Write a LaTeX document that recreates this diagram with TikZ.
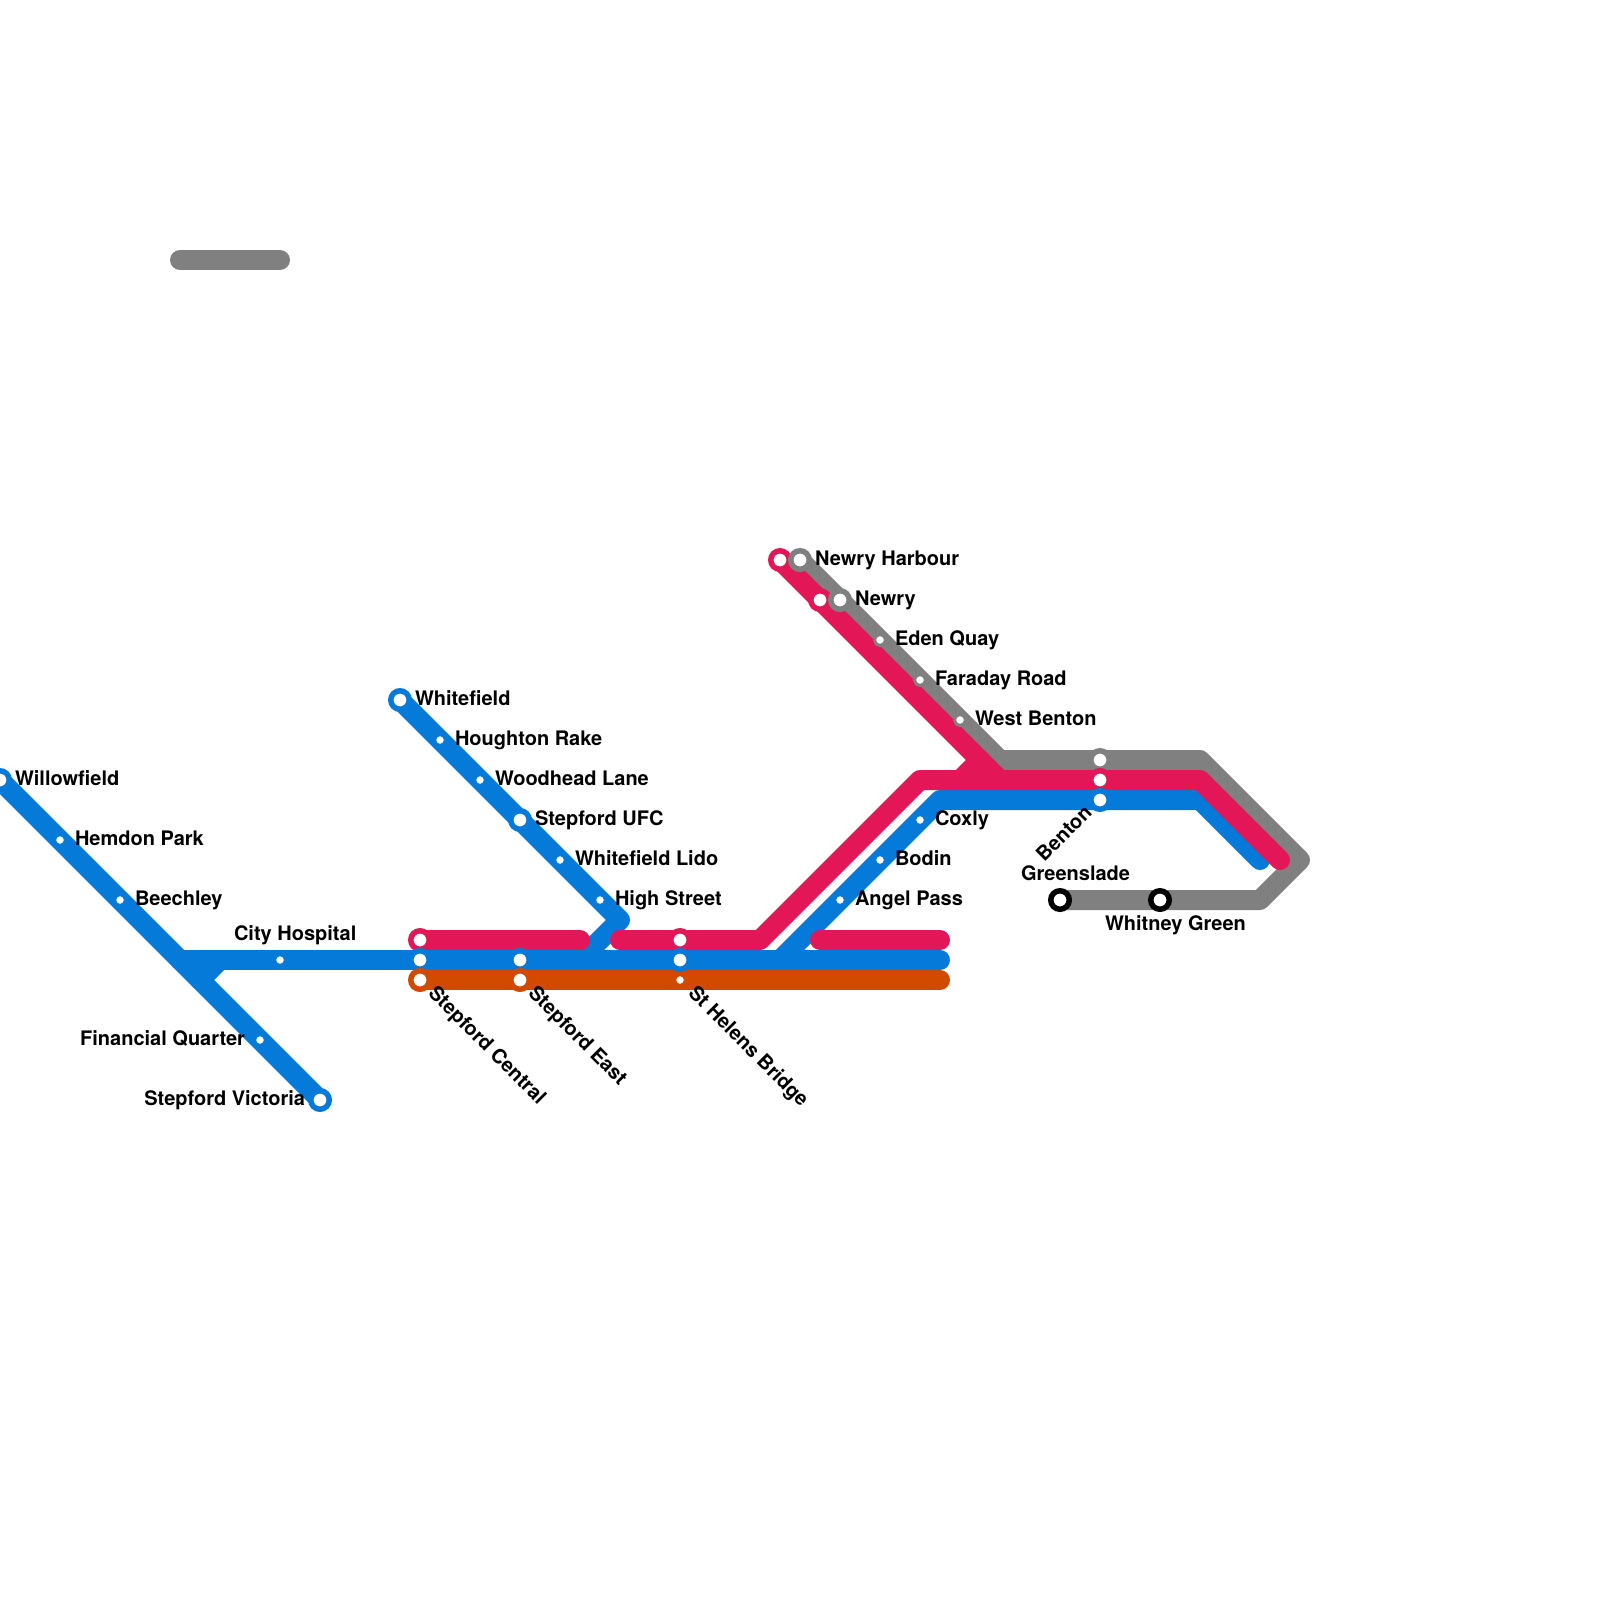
\documentclass[tikz,border=0pt]{standalone}
\usepackage{fontspec}
\setmainfont{TeX Gyre Heros}
\definecolor{lblue}{HTML}{057AD9}
\definecolor{lpink}{HTML}{E31758}
\definecolor{lorange}{HTML}{D14A00}
\definecolor{lgray}{HTML}{808080}
\tikzset{
  metroline/.style={line width=20pt,line cap=round,line join=round},
  bigstn/.style={circle,fill=white,draw=#1,line width=5.5pt,minimum size=18.5pt,inner sep=0pt,outer sep=0pt},
  smallstn/.style={circle,fill=white,draw=#1,line width=3pt,minimum size=11pt,inner sep=0pt,outer sep=0pt},
  stnlabel/.style={inner sep=0pt,outer sep=0pt,font=\fontsize{20}{24}\selectfont\bfseries},
  west/.style={stnlabel,anchor=base west},
  east/.style={stnlabel,anchor=base east},
  diagdown/.style={stnlabel,anchor=base west,rotate=-45},
  diagup/.style={stnlabel,anchor=base east,rotate=45}
}
\begin{document}
\begin{tikzpicture}[x=1pt,y=-1pt]
\useasboundingbox (0,0) rectangle (1600,1600);
% way points
\coordinate (willow) at (0,780);
\coordinate (vic) at (320,1100);
\coordinate (bj) at (200,980);
\coordinate (bk) at (220,960);
\coordinate (bl) at (180,960);
\coordinate (bend) at (940,960);
\coordinate (wf) at (400,700);
\coordinate (hs) at (620,920);
\coordinate (hj) at (580,960);
\coordinate (cj) at (780,960);
\coordinate (ct) at (940,800);
\coordinate (cr) at (1200,800);
\coordinate (ce) at (1260,860);
\coordinate (oa) at (420,980);
\coordinate (ob) at (940,980);
\coordinate (pa) at (420,940);
\coordinate (pb) at (580,940);
\coordinate (pc) at (620,940);
\coordinate (pd) at (760,940);
\coordinate (pe) at (920,780);
\coordinate (pf) at (960,780);
\coordinate (pg) at (980,760);
\coordinate (ph) at (780,560);
\coordinate (pi) at (1000,780);
\coordinate (pj) at (1200,780);
\coordinate (pk) at (1280,860);
\coordinate (pl) at (820,940);
\coordinate (pm) at (940,940);
\coordinate (ga) at (800,560);
\coordinate (gb) at (1000,760);
\coordinate (gc) at (1200,760);
\coordinate (gd) at (1300,860);
\coordinate (ge) at (1260,900);
\coordinate (gf) at (1060,900);
\coordinate (sa) at (180,260);
\coordinate (sb) at (280,260);
% lines
\draw[metroline,lgray] (sa) -- (sb);
\draw[metroline,lgray] (ga) -- (gb) -- (gc) -- (gd) -- (ge) -- (gf);
\draw[metroline,lorange] (oa) -- (ob);
\draw[metroline,lblue] (willow) -- (vic);
\draw[metroline,lblue] (bl) -- (bend);
\draw[metroline,lblue] (bj) -- (bk);
\draw[metroline,lblue] (wf) -- (hs) -- (hj);
\draw[metroline,lblue] (cj) -- (ct) -- (cr) -- (ce);
\draw[metroline,lpink] (pa) -- (pb);
\draw[metroline,lpink] (pc) -- (pd) -- (pe) -- (pi);
\draw[metroline,lpink] (pf) -- (pg);
\draw[metroline,lpink] (ph) -- (pi) -- (pj) -- (pk);
\draw[metroline,lpink] (pl) -- (pm);
% stations
\node[bigstn=lblue] (s1) at (0,780) {};
\node[smallstn=lblue] (s2) at (60,840) {};
\node[smallstn=lblue] (s3) at (120,900) {};
\node[smallstn=lblue] (s4) at (280,960) {};
\node[smallstn=lblue] (s5) at (260,1040) {};
\node[bigstn=lblue] (s6) at (320,1100) {};
\node[bigstn=lblue] (s7) at (400,700) {};
\node[smallstn=lblue] (s8) at (440,740) {};
\node[smallstn=lblue] (s9) at (480,780) {};
\node[bigstn=lblue] (s10) at (520,820) {};
\node[smallstn=lblue] (s11) at (560,860) {};
\node[smallstn=lblue] (s12) at (600,900) {};
\node[bigstn=lpink] (s13p) at (420,940) {};
\node[bigstn=lblue] (s13b) at (420,960) {};
\node[bigstn=lorange] (s13o) at (420,980) {};
\node[bigstn=lblue] (s14b) at (520,960) {};
\node[bigstn=lorange] (s14o) at (520,980) {};
\node[bigstn=lpink] (s15p) at (680,940) {};
\node[bigstn=lblue] (s15b) at (680,960) {};
\node[smallstn=lorange] (s15o) at (680,980) {};
\node[smallstn=lblue] (s16) at (840,900) {};
\node[smallstn=lblue] (s17) at (880,860) {};
\node[smallstn=lblue] (s18) at (920,820) {};
\node[bigstn=lpink] (s19p) at (780,560) {};
\node[bigstn=lgray] (s19g) at (800,560) {};
\node[bigstn=lpink] (s20p) at (820,600) {};
\node[bigstn=lgray] (s20g) at (840,600) {};
\node[smallstn=lgray] (s21) at (880,640) {};
\node[smallstn=lgray] (s22) at (920,680) {};
\node[smallstn=lgray] (s23) at (960,720) {};
\node[bigstn=lgray] (s24g) at (1100,760) {};
\node[bigstn=lpink] (s24p) at (1100,780) {};
\node[bigstn=lblue] (s24b) at (1100,800) {};
\node[bigstn=black] (s25) at (1060,900) {};
\node[bigstn=black] (s26) at (1160,900) {};
% labels
\node[west] (l1) at (15,785) {Willowfield};
\node[west] (l2) at (75,845) {Hemdon Park};
\node[west] (l3) at (135,905) {Beechley};
\node[west] (l4) at (234,940) {City Hospital};
\node[east] (l5) at (245,1045) {Financial Quarter};
\node[east] (l6) at (305,1105) {Stepford Victoria};
\node[west] (l7) at (415,705) {Whitefield};
\node[west] (l8) at (455,745) {Houghton Rake};
\node[west] (l9) at (495,785) {Woodhead Lane};
\node[west] (l10) at (535,825) {Stepford UFC};
\node[west] (l11) at (575,865) {Whitefield Lido};
\node[west] (l12) at (615,905) {High Street};
\node[diagdown] (l13) at (427.3,994.5) {Stepford Central};
\node[diagdown] (l14) at (527.3,994.5) {Stepford East};
\node[diagdown] (l15) at (687.3,994.5) {St Helens Bridge};
\node[west] (l16) at (855,905) {Angel Pass};
\node[west] (l17) at (895,865) {Bodin};
\node[west] (l18) at (935,825) {Coxly};
\node[west] (l19) at (815,565) {Newry Harbour};
\node[west] (l20) at (855,605) {Newry};
\node[west] (l21) at (895,645) {Eden Quay};
\node[west] (l22) at (935,685) {Faraday Road};
\node[west] (l23) at (975,725) {West Benton};
\node[diagup] (l24) at (1093,814) {Benton};
\node[west] (l25) at (1021,880) {Greenslade};
\node[west] (l26) at (1105,930) {Whitney Green};
\end{tikzpicture}
\end{document}
